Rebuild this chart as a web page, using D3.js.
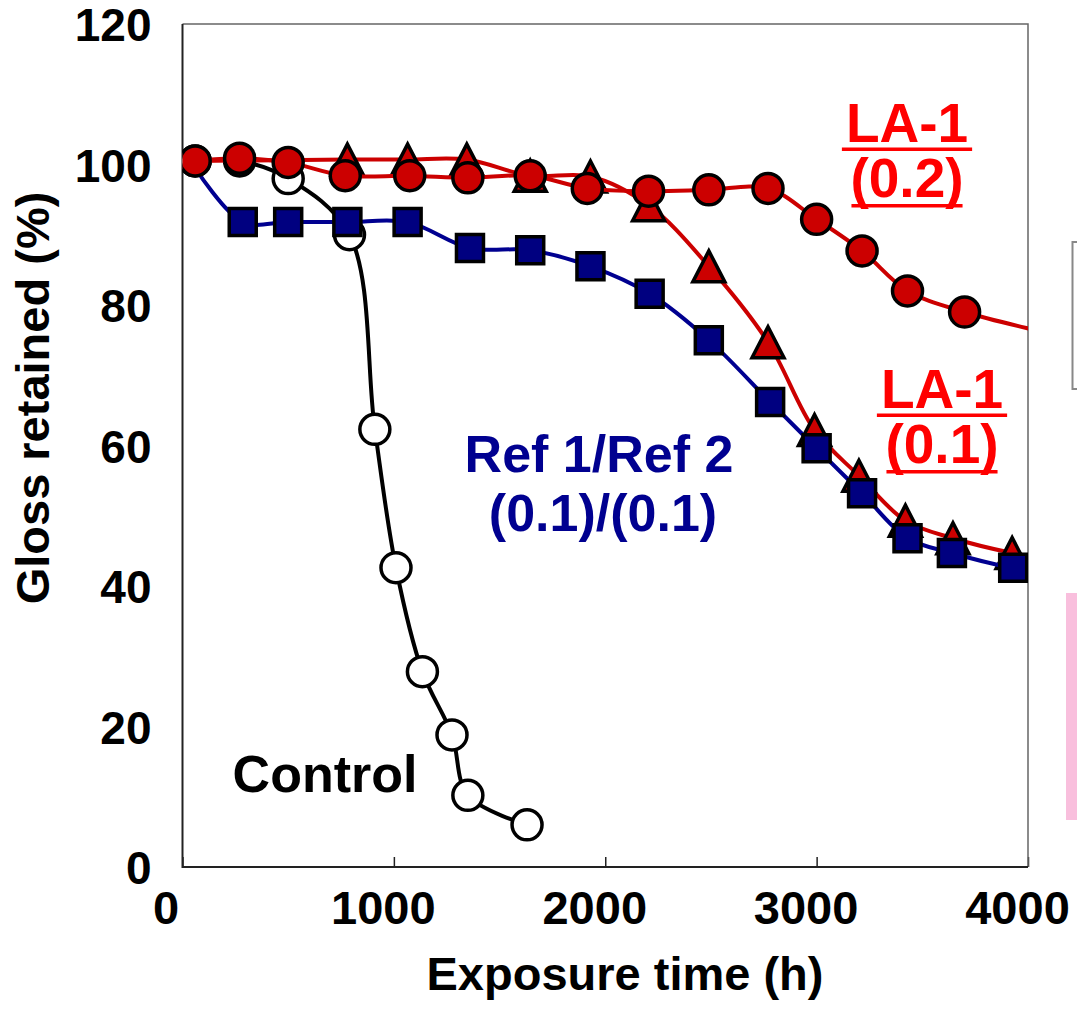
<!DOCTYPE html>
<html>
<head>
<meta charset="utf-8">
<script src="https://cdn.jsdelivr.net/npm/d3@7"></script>
<style>
  body { margin: 0; background: #fff; }
  svg { display: block; font-family: "Liberation Sans", Arial, sans-serif; font-weight: bold; }
</style>
</head>
<body>
<div id="chart"></div>
<script>
// values (exposure time in h, gloss retained in %)
const controlHours = [60, 270, 500, 790, 910, 1010, 1135, 1275, 1350, 1630];
const controlGloss = [100.5, 100.5, 98, 90, 62.3, 42.6, 27.8, 18.8, 10.2, 6.0];

const la01Hours = [60, 780, 1065, 1345, 1645, 1930, 2205, 2490, 2770, 2990, 3200, 3420, 3645, 3925, 4150];
const la01Gloss = [100.5, 100.7, 100.7, 100.7, 98.4, 98.3, 94.2, 85.5, 74.7, 62.2, 55.7, 49.3, 46.8, 44.7, 43.6];

const refHours = [60, 285, 500, 780, 1065, 1360, 1645, 1930, 2210, 2490, 2780, 3000, 3215, 3430, 3640, 3930, 4150];
const refGloss = [99.5, 91.8, 91.8, 91.8, 91.8, 88.1, 87.8, 85.5, 81.6, 75.0, 66.2, 59.6, 53.2, 46.8, 44.7, 42.6, 42.2];

const la02Hours = [60, 270, 500, 770, 1075, 1350, 1645, 1915, 2205, 2490, 2770, 3000, 3215, 3430, 3700, 4200];
const la02Gloss = [100.5, 100.9, 100.3, 98.4, 98.4, 98.1, 98.4, 96.6, 96.2, 96.4, 96.6, 92.2, 87.7, 82.0, 79.0, 75.3];

const xTicks = [0, 1000, 2000, 3000, 4000];
const yTicks = [0, 20, 40, 60, 80, 100, 120];

const width = 1077;
const height = 1009;
const margin = {top: 24, right: 49, bottom: 142, left: 182.5};

const zip = (xs, ys) => xs.map((x, i) => ({x: x, y: ys[i]}));

// skip = number of leading points drawn without a marker
const series = [
  {name: "control", data: zip(controlHours, controlGloss), line: "#000", fill: "#fff", shape: "circle", skip: 0},
  {name: "la01", data: zip(la01Hours, la01Gloss), line: "#cc0000", fill: "#cc0000", shape: "triangle", skip: 1},
  {name: "ref", data: zip(refHours, refGloss), line: "#000090", fill: "#000080", shape: "square", skip: 1},
  {name: "la02", data: zip(la02Hours, la02Gloss), line: "#cc0000", fill: "#cc0000", shape: "circle", skip: 0}
];

const x = d3.scaleLinear()
            .domain([0, 4000])
            .range([margin.left, width - margin.right]);

const y = d3.scaleLinear()
            .domain([0, 120])
            .range([height - margin.bottom, margin.top]);

const svg = d3.select("#chart").append("svg")
    .attr("width", width)
    .attr("height", height)
    .attr("viewBox", [0, 0, width, height]);

svg.append("defs").append("clipPath")
    .attr("id", "plot-clip")
  .append("rect")
    .attr("x", margin.left)
    .attr("y", 0)
    .attr("width", width - margin.left - margin.right)
    .attr("height", height - margin.bottom);

// stray bits of the neighbouring figure at the right edge
svg.append("path")
    .attr("d", "M1078,242H1072.5V389H1078")
    .attr("fill", "none")
    .attr("stroke", "#888")
    .attr("stroke-width", 2);

svg.append("rect")
    .attr("x", 1066)
    .attr("y", 593)
    .attr("width", 11)
    .attr("height", 227)
    .attr("fill", "#f9bfdd");

// axes: bottom with inward ticks, left with labels only
svg.append("g")
    .attr("transform", `translate(0,${height - margin.bottom})`)
    .call(d3.axisBottom(x).tickValues(xTicks).tickSize(-10).tickFormat(d3.format("d")))
    .call(g => g.select(".domain").remove())
    .call(g => g.selectAll(".tick line").attr("stroke", "#222").attr("stroke-width", 1.5))
    .call(g => g.selectAll(".tick text")
                .attr("y", 0)
                .attr("dy", 0)
                .attr("transform", d => d === 0 ? "translate(-17,57)" : "translate(-11,57)")
                .attr("fill", "#000")
                .style("font-size", "47px")
                .style("font-weight", "bold"));

svg.append("g")
    .attr("transform", `translate(${margin.left},0)`)
    .call(d3.axisLeft(y).tickValues(yTicks).tickSize(0).tickPadding(31))
    .call(g => g.select(".domain").remove())
    .call(g => g.selectAll(".tick text")
                .attr("dy", "0.36em")
                .attr("fill", "#000")
                .style("font-size", "46px")
                .style("font-weight", "bold"));

// plot frame: dark left/bottom, lighter top/right
const x0 = margin.left, x1 = width - margin.right;
const y0 = margin.top, y1 = height - margin.bottom;
svg.append("path")
    .attr("d", `M${x0},${y0}H${x1}V${y1}`)
    .attr("fill", "none")
    .attr("stroke", "#666")
    .attr("stroke-width", 1.5);
svg.append("path")
    .attr("d", `M${x0},${y0}V${y1}H${x1}`)
    .attr("fill", "none")
    .attr("stroke", "#222")
    .attr("stroke-width", 2);

svg.append("text")
    .attr("x", 625)
    .attr("y", 990)
    .attr("text-anchor", "middle")
    .style("font-size", "47px")
    .text("Exposure time (h)");

svg.append("text")
    .attr("transform", "translate(49,398) rotate(-90)")
    .attr("text-anchor", "middle")
    .style("font-size", "47px")
    .text("Gloss retained (%)");

// smoothed lines and markers, drawn in series order
const line = d3.line()
               .x(d => x(d.x))
               .y(d => y(d.y))
               .curve(d3.curveCatmullRom.alpha(0.5));

const plot = svg.append("g").attr("clip-path", "url(#plot-clip)");

const marker = function(shape) {
  if (shape === "square") return "M-13.5,-13.5H13.5V13.5H-13.5Z";
  if (shape === "triangle") return "M0,-15.5L16,15.5H-16Z";
  return d3.symbol(d3.symbolCircle, Math.PI * 15 * 15)();
};

series.forEach(s => {
  const g = plot.append("g").attr("class", s.name);
  g.append("path")
      .datum(s.data)
      .attr("fill", "none")
      .attr("stroke", s.line)
      .attr("stroke-width", 4)
      .attr("d", line);
  g.selectAll("path.mark")
    .data(s.data.slice(s.skip).filter(d => d.x <= 4000))
    .join("path")
      .attr("class", "mark")
      .attr("transform", d => `translate(${x(d.x)},${y(d.y)})`)
      .attr("d", marker(s.shape))
      .attr("fill", s.fill)
      .attr("stroke", "#000")
      .attr("stroke-width", 3.5)
      .attr("stroke-linejoin", "miter");
});

// in-plot labels
svg.append("text")
    .attr("x", 325)
    .attr("y", 792)
    .attr("text-anchor", "middle")
    .style("font-size", "52px")
    .text("Control");

const refLabel = svg.append("text")
    .attr("text-anchor", "middle")
    .attr("fill", "#000090")
    .style("font-size", "52px");
refLabel.append("tspan").attr("x", 599).attr("y", 472).text("Ref 1/Ref 2");
refLabel.append("tspan").attr("x", 603).attr("y", 531).text("(0.1)/(0.1)");

const fraction = function(cx, barY, top, bottom) {
  const g = svg.append("g").attr("fill", "#ff0000");
  const t1 = g.append("text")
      .attr("x", cx)
      .attr("y", barY - 7)
      .attr("text-anchor", "middle")
      .style("font-size", "55px")
      .text(top);
  const t2 = g.append("text")
      .attr("x", cx)
      .attr("y", barY + 48)
      .attr("text-anchor", "middle")
      .style("font-size", "55px")
      .text(bottom);
  const w1 = t1.node().getComputedTextLength();
  const w2 = t2.node().getComputedTextLength();
  g.append("rect")
      .attr("x", cx - w1 / 2 - 4)
      .attr("y", barY - 1.5)
      .attr("width", w1 + 8)
      .attr("height", 3.5);
  g.append("rect")
      .attr("x", cx - w2 / 2 + 1)
      .attr("y", barY + 55)
      .attr("width", w2 - 2)
      .attr("height", 3.5);
};

fraction(907, 149, "LA-1", "(0.2)");
fraction(942, 415, "LA-1", "(0.1)");
</script>
</body>
</html>
